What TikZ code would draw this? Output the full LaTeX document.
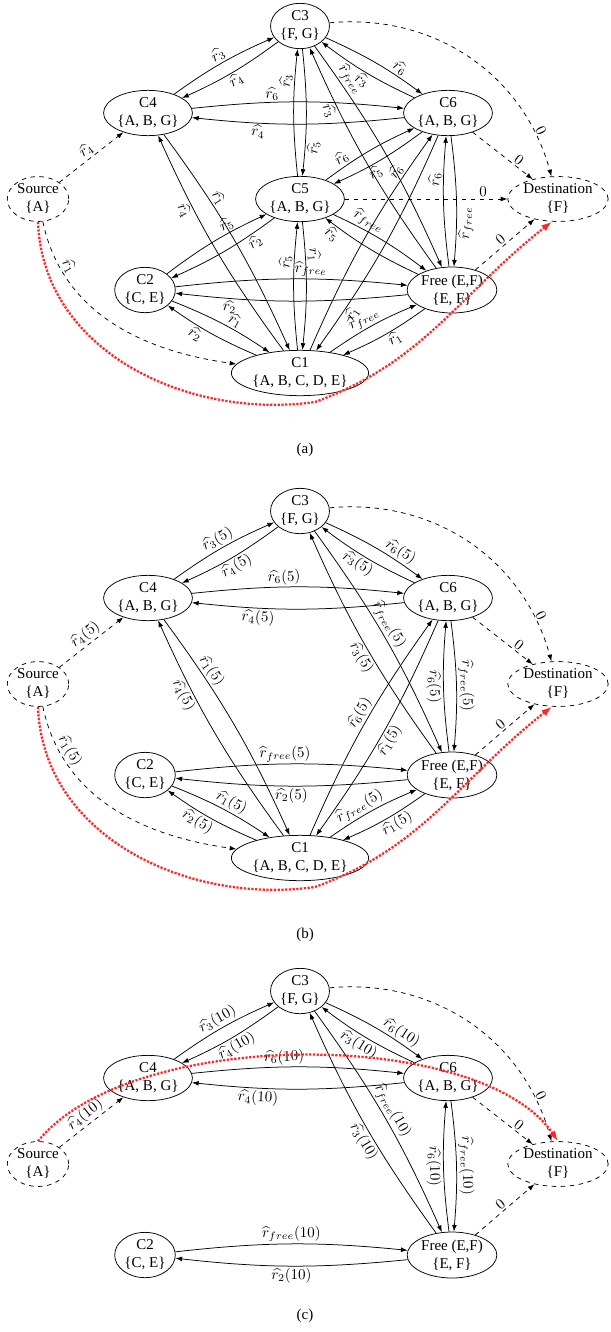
\documentclass[tikz,border=0pt]{standalone}
\usepackage[no-math]{fontspec}
\setmainfont{Liberation Serif}
\usepackage{amsmath}
\usetikzlibrary{shapes.geometric,arrows.meta}

\begin{document}
\begin{tikzpicture}[x=0.6667pt,y=0.6667pt,
		state/.style={ellipse,draw,line width=0.5pt,inner sep=0.6pt,align=center},
		link/.style={line width=0.5pt,->,>={Latex[length=4.5pt,width=3.2pt]},bend left=6},
		dlink/.style={line width=0.5pt,dashed,->,>={Latex[length=4.5pt,width=3.2pt]}},
		lbl/.style={auto,sloped,inner sep=1.2pt},
		redpath/.style={draw=red!85,densely dotted,line width=1.5pt,-{Latex[length=7pt,width=5pt]}}]
		\useasboundingbox (0,0) rectangle (610,-1332);
		% (a)
		\path (300,-26) node(c3A)[state]{C3\\\{F, G\}}
		(148,-113) node(c4A)[state]{C4\\\{A, B, G\}}
		(448,-113) node(c6A)[state]{C6\\\{A, B, G\}}
		(38,-199) node(srcA)[state,dashed]{Source\\\{A\}}
		(300,-199) node(c5A)[state]{C5\\\{A, B, G\}}
		(558,-199) node(dstA)[state,dashed]{Destination\\\{F\}}
		(145,-290) node(c2A)[state]{C2\\\{C, E\}}
		(452,-290) node(freeA)[state]{Free (E,F)\\\{E, F\}}
		(300,-373) node(c1A)[state]{C1\\\{A, B, C, D, E\}}
		(305,-450) node(capA){(a)};
		\draw[link] (c4A) to node[lbl]{$\widehat{r_3}$} (c3A);
		\draw[link] (c3A) to node[lbl,swap]{$\widehat{r_4}$} (c4A);
		\draw[link] (c4A) to node[lbl,pos=0.37]{$\widehat{r_6}$} (c6A);
		\draw[link] (c6A) to node[lbl,swap,pos=0.7]{$\widehat{r_4}$} (c4A);
		\draw[link] (c3A) to node[lbl,pos=0.72]{$\widehat{r_6}$} (c6A);
		\draw[link] (c6A) to node[lbl,swap]{$\widehat{r_3}$} (c3A);
		\draw[link] (c5A) to node[lbl,pos=0.76]{$\widehat{r_3}$} (c3A);
		\draw[link] (c3A) to node[lbl,swap,pos=0.79]{$\widehat{r_5}$} (c5A);
		\draw[link] (c3A) to node[lbl,pos=0.17]{$\widehat{r}_{free}$} (freeA);
		\draw[link] (freeA) to node[lbl,swap,pos=0.76]{$\widehat{r_3}$} (c3A);
		\draw[link] (c5A) to node[lbl,pos=0.23]{$\widehat{r_6}$} (c6A);
		\draw[link] (c6A) to node[lbl,swap,pos=0.6]{$\widehat{r_5}$} (c5A);
		\draw[link] (c1A) to node[lbl,pos=0.81]{$\widehat{r_6}$} (c6A);
		\draw[link] (c6A) to node[lbl,swap,pos=0.81]{$\widehat{r_1}$} (c1A);
		\draw[link] (c6A) to node[lbl,swap,pos=0.68]{$\widehat{r}_{free}$} (freeA);
		\draw[link] (freeA) to node[lbl,pos=0.68]{$\widehat{r_6}$} (c6A);
		\draw[link] (c4A) to node[lbl,pos=0.32]{$\widehat{r_1}$} (c1A);
		\draw[link] (c1A) to node[lbl,swap,pos=0.7]{$\widehat{r_4}$} (c4A);
		\draw[link] (c2A) to node[lbl,pos=0.67]{$\widehat{r_5}$} (c5A);
		\draw[link] (c5A) to node[lbl,swap,pos=0.23]{$\widehat{r_2}$} (c2A);
		\draw[link] (c1A) to node[lbl,pos=0.7]{$\widehat{r_5}$} (c5A);
		\draw[link] (c5A) to node[lbl,pos=0.25]{$\widehat{r_1}$} (c1A);
		\draw[link] (c5A) to node[lbl,pos=0.3]{$\widehat{r}_{free}$} (freeA);
		\draw[link] (freeA) to node[lbl,swap,pos=0.88]{$\widehat{r_5}$} (c5A);
		\draw[link] (c2A) to node[lbl,pos=0.59]{$\widehat{r}_{free}$} (freeA);
		\draw[link] (freeA) to node[lbl,swap,pos=0.78]{$\widehat{r_2}$} (c2A);
		\draw[link] (c2A) to node[lbl,pos=0.6]{$\widehat{r_1}$} (c1A);
		\draw[link] (c1A) to node[lbl,swap,pos=0.63]{$\widehat{r_2}$} (c2A);
		\draw[link] (c1A) to node[lbl,pos=0.46]{$\widehat{r}_{free}$} (freeA);
		\draw[link] (freeA) to node[lbl,swap,pos=0.43]{$\widehat{r_1}$} (c1A);
		\draw[dlink] (srcA) to node[lbl]{$\widehat{r_4}$} (c4A);
		\draw[dlink] (srcA) to[out=-78,in=172] node[lbl,pos=0.2]{$\widehat{r_1}$} (c1A);
		\draw[dlink,bend left=40] (c3A) to node[lbl,pos=0.85]{$0$} (dstA);
		\draw[dlink] (c6A) to node[lbl,pos=0.7]{$0$} (dstA);
		\draw[dlink] (c5A) to node[lbl,pos=0.85]{$0$} (dstA);
		\draw[dlink] (freeA) to node[lbl]{$0$} (dstA);
		\draw[redpath] (srcA.south) to[out=-88,in=188] (315,-402) to[out=20,in=-142] (dstA.-105);
		% (b)
		\begin{scope}[shift={(0,-485)}]
		\path (300,-26) node(c3B)[state]{C3\\\{F, G\}}
		(148,-113) node(c4B)[state]{C4\\\{A, B, G\}}
		(448,-113) node(c6B)[state]{C6\\\{A, B, G\}}
		(38,-199) node(srcB)[state,dashed]{Source\\\{A\}}
		(558,-199) node(dstB)[state,dashed]{Destination\\\{F\}}
		(145,-290) node(c2B)[state]{C2\\\{C, E\}}
		(452,-290) node(freeB)[state]{Free (E,F)\\\{E, F\}}
		(300,-373) node(c1B)[state]{C1\\\{A, B, C, D, E\}}
		(305,-450) node(capB){(b)};
		\draw[link] (c4B) to node[lbl]{$\widehat{r_3}(5)$} (c3B);
		\draw[link] (c3B) to node[lbl,swap]{$\widehat{r_4}(5)$} (c4B);
		\draw[link] (c4B) to node[lbl,pos=0.43]{$\widehat{r_6}(5)$} (c6B);
		\draw[link] (c6B) to node[lbl,swap,pos=0.7]{$\widehat{r_4}(5)$} (c4B);
		\draw[link] (c3B) to node[lbl,pos=0.72]{$\widehat{r_6}(5)$} (c6B);
		\draw[link] (c6B) to node[lbl,swap,pos=0.54]{$\widehat{r_3}(5)$} (c3B);
		\draw[link] (c3B) to node[lbl,pos=0.46]{$\widehat{r}_{free}(5)$} (freeB);
		\draw[link] (freeB) to node[lbl,swap,pos=0.47]{$\widehat{r_3}(5)$} (c3B);
		\draw[link] (c4B) to node[lbl,pos=0.26]{$\widehat{r_1}(5)$} (c1B);
		\draw[link] (c1B) to node[lbl,swap,pos=0.7]{$\widehat{r_4}(5)$} (c4B);
		\draw[link] (c6B) to node[lbl,swap,pos=0.52]{$\widehat{r_1}(5)$} (c1B);
		\draw[link] (c1B) to node[lbl,pos=0.53]{$\widehat{r_6}(5)$} (c6B);
		\draw[link] (c6B) to node[lbl]{$\widehat{r}_{free}(5)$} (freeB);
		\draw[link] (freeB) to node[lbl,swap]{$\widehat{r_6}(5)$} (c6B);
		\draw[link] (c2B) to node[lbl,pos=0.47]{$\widehat{r}_{free}(5)$} (freeB);
		\draw[link] (freeB) to node[lbl,swap]{$\widehat{r_2}(5)$} (c2B);
		\draw[link] (c2B) to node[lbl,pos=0.55]{$\widehat{r_1}(5)$} (c1B);
		\draw[link] (c1B) to node[lbl,swap,pos=0.6]{$\widehat{r_2}(5)$} (c2B);
		\draw[link] (c1B) to node[lbl,pos=0.41]{$\widehat{r}_{free}(5)$} (freeB);
		\draw[link] (freeB) to node[lbl,swap,pos=0.41]{$\widehat{r_1}(5)$} (c1B);
		\draw[dlink] (srcB) to node[lbl]{$\widehat{r_4}(5)$} (c4B);
		\draw[dlink] (srcB) to[out=-78,in=172] node[lbl,pos=0.2]{$\widehat{r_1}(5)$} (c1B);
		\draw[dlink,bend left=40] (c3B) to node[lbl,pos=0.85]{$0$} (dstB);
		\draw[dlink] (c6B) to node[lbl,pos=0.7]{$0$} (dstB);
		\draw[dlink] (freeB) to node[lbl]{$0$} (dstB);
		\draw[redpath] (srcB.south) to[out=-88,in=188] (315,-402) to[out=20,in=-142] (dstB.-105);
		\end{scope}
		% (c)
		\begin{scope}[shift={(0,-965)}]
		\path (300,-26) node(c3C)[state]{C3\\\{F, G\}}
		(148,-113) node(c4C)[state]{C4\\\{A, B, G\}}
		(448,-113) node(c6C)[state]{C6\\\{A, B, G\}}
		(38,-199) node(srcC)[state,dashed]{Source\\\{A\}}
		(558,-199) node(dstC)[state,dashed]{Destination\\\{F\}}
		(145,-290) node(c2C)[state]{C2\\\{C, E\}}
		(452,-290) node(freeC)[state]{Free (E,F)\\\{E, F\}}
		(305,-351) node(capC){(c)};
		\draw[link] (c4C) to node[lbl]{$\widehat{r_3}(10)$} (c3C);
		\draw[link] (c3C) to node[lbl,swap]{$\widehat{r_4}(10)$} (c4C);
		\draw[link] (c4C) to node[lbl,pos=0.43]{$\widehat{r_6}(10)$} (c6C);
		\draw[link] (c6C) to node[lbl,swap,pos=0.7]{$\widehat{r_4}(10)$} (c4C);
		\draw[link] (c3C) to node[lbl,pos=0.73]{$\widehat{r_6}(10)$} (c6C);
		\draw[link] (c6C) to node[lbl,swap,pos=0.53]{$\widehat{r_3}(10)$} (c3C);
		\draw[link] (c3C) to node[lbl,pos=0.49]{$\widehat{r}_{free}(10)$} (freeC);
		\draw[link] (freeC) to node[lbl,swap,pos=0.45]{$\widehat{r_3}(10)$} (c3C);
		\draw[link] (c6C) to node[lbl]{$\widehat{r}_{free}(10)$} (freeC);
		\draw[link] (freeC) to node[lbl,swap]{$\widehat{r_6}(10)$} (c6C);
		\draw[link] (c2C) to node[lbl]{$\widehat{r}_{free}(10)$} (freeC);
		\draw[link] (freeC) to node[lbl,swap]{$\widehat{r_2}(10)$} (c2C);
		\draw[dlink] (srcC) to node[lbl]{$\widehat{r_4}(10)$} (c4C);
		\draw[dlink,bend left=40] (c3C) to node[lbl,pos=0.85]{$0$} (dstC);
		\draw[dlink] (c6C) to node[lbl,pos=0.7]{$0$} (dstC);
		\draw[dlink] (freeC) to node[lbl]{$0$} (dstC);
		\draw[redpath] (srcC.north) .. controls (130,-62) and (480,-62) .. (dstC.north);
		\end{scope}
	\end{tikzpicture}
\end{document}
